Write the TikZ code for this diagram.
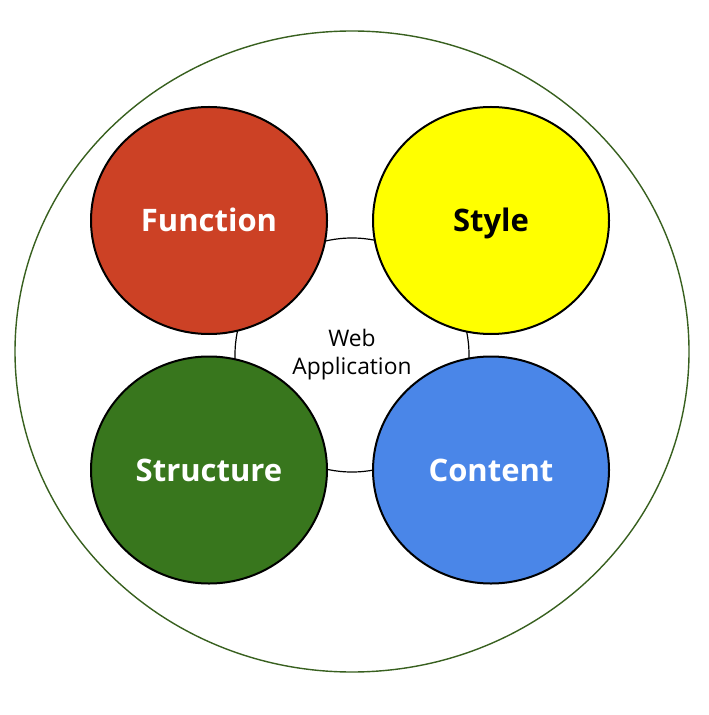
\documentclass[tikz,border=0pt]{standalone}
\usepackage{fontspec}
\setmainfont{Open Sans}
\usetikzlibrary{shapes.geometric}
\definecolor{figR}{HTML}{CC4125}
\definecolor{figY}{HTML}{FFFF00}
\definecolor{figG}{HTML}{38761D}
\definecolor{figB}{HTML}{4A86E8}
\definecolor{figO}{HTML}{38601F}

\begin{document}
\begin{tikzpicture}[x=0.5pt,y=-0.5pt,
  part/.style={ellipse,draw=black,line width=1pt,minimum width=118pt,minimum height=113.5pt,inner sep=0pt,text height=11.1pt,text depth=0pt,font=\bfseries\fontsize{15.5}{18}\selectfont}]
\useasboundingbox (0,0) rectangle (708,715);
\node[ellipse,draw=figO,line width=0.7pt,minimum width=337pt,minimum height=320.5pt] (app) at (352,351.5) {};
\node[circle,draw=black,line width=0.6pt,fill=white,minimum size=117pt,align=center,font=\fontsize{11.4}{14}\selectfont] (web) at (352,355) {Web\\Application};
\node[part,fill=figR,text=white] (func) at (209,220.5) {Function};
\node[part,fill=figY,text=black] (style) at (491,220.5) {Style};
\node[part,fill=figG,text=white] (struct) at (209,470) {Structure};
\node[part,fill=figB,text=white] (cont) at (491,470) {Content};
\end{tikzpicture}
\end{document}
